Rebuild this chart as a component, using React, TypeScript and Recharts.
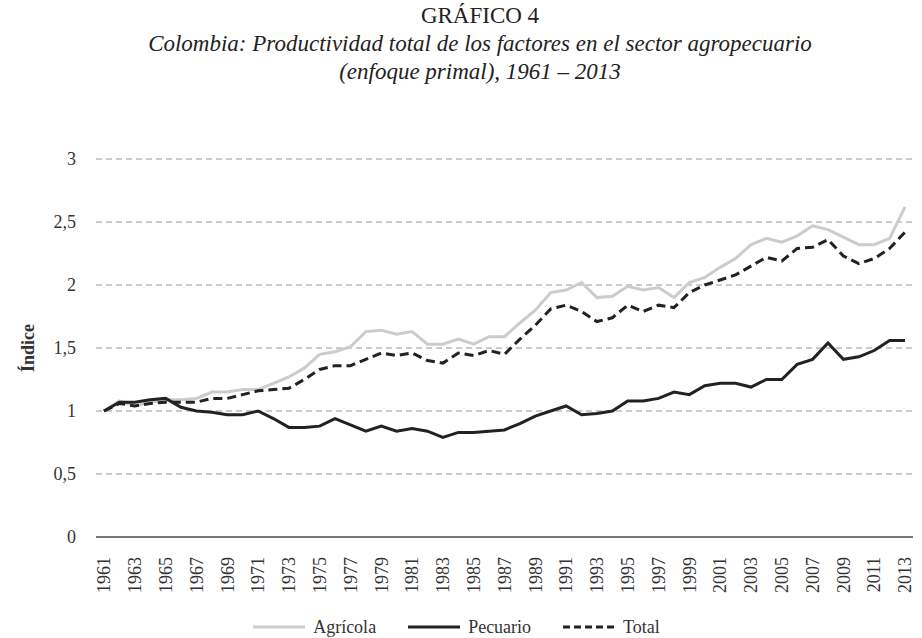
import { CartesianGrid, Legend, Line, LineChart, XAxis, YAxis } from "recharts"

const years = [
  "1961", "1962", "1963", "1964", "1965", "1966", "1967", "1968", "1969", "1970",
  "1971", "1972", "1973", "1974", "1975", "1976", "1977", "1978", "1979", "1980",
  "1981", "1982", "1983", "1984", "1985", "1986", "1987", "1988", "1989", "1990",
  "1991", "1992", "1993", "1994", "1995", "1996", "1997", "1998", "1999", "2000",
  "2001", "2002", "2003", "2004", "2005", "2006", "2007", "2008", "2009", "2010",
  "2011", "2012", "2013",
]

const agricola = [
  1.0, 1.08, 1.04, 1.07, 1.09, 1.09, 1.1, 1.15, 1.15, 1.17,
  1.17, 1.22, 1.27, 1.34, 1.45, 1.47, 1.51, 1.63, 1.64, 1.61,
  1.63, 1.53, 1.53, 1.57, 1.53, 1.59, 1.59, 1.7, 1.8, 1.94,
  1.96, 2.02, 1.9, 1.91, 1.99, 1.96, 1.98, 1.9, 2.02, 2.06,
  2.14, 2.21, 2.32, 2.37, 2.34, 2.39, 2.47, 2.44, 2.38, 2.32,
  2.32, 2.37, 2.62,
]

const pecuario = [
  1.0, 1.07, 1.07, 1.09, 1.1, 1.03, 1.0, 0.99, 0.97, 0.97,
  1.0, 0.94, 0.87, 0.87, 0.88, 0.94, 0.89, 0.84, 0.88, 0.84,
  0.86, 0.84, 0.79, 0.83, 0.83, 0.84, 0.85, 0.9, 0.96, 1.0,
  1.04, 0.97, 0.98, 1.0, 1.08, 1.08, 1.1, 1.15, 1.13, 1.2,
  1.22, 1.22, 1.19, 1.25, 1.25, 1.37, 1.41, 1.54, 1.41, 1.43,
  1.48, 1.56, 1.56,
]

const total = [
  1.0, 1.06, 1.04, 1.06, 1.07, 1.07, 1.07, 1.1, 1.1, 1.13,
  1.16, 1.17, 1.18, 1.25, 1.33, 1.36, 1.36, 1.41, 1.46, 1.44,
  1.46, 1.4, 1.38, 1.46, 1.44, 1.48, 1.45, 1.57, 1.68, 1.81,
  1.84, 1.79, 1.71, 1.74, 1.84, 1.79, 1.84, 1.82, 1.94, 2.0,
  2.04, 2.08, 2.15, 2.22, 2.19, 2.29, 2.3, 2.36, 2.23, 2.17,
  2.21, 2.29, 2.42,
]

const yTicks = [0, 0.5, 1, 1.5, 2, 2.5, 3]

const data = years.map((year, i) => ({
  year,
  agricola: agricola[i],
  pecuario: pecuario[i],
  total: total[i],
}))

const FONT = "'Liberation Serif', 'DejaVu Serif', serif"

const legendItems = [
  { label: "Agrícola", color: "#cccccc", dash: undefined },
  { label: "Pecuario", color: "#222222", dash: undefined },
  { label: "Total", color: "#222222", dash: "7 4" },
]

function YearTick(props: any) {
  const { x, y, payload } = props
  return (
    <text
      x={x}
      y={y + 12}
      transform={`rotate(-90, ${x}, ${y + 12})`}
      textAnchor="end"
      dy="0.35em"
      fontSize={18}
      fontFamily={FONT}
      fill="#333"
    >
      {payload.value}
    </text>
  )
}

function ChartLegend() {
  return (
    <div
      style={{
        height: 40,
        display: "flex",
        justifyContent: "center",
        alignItems: "flex-end",
        gap: 32,
        fontFamily: FONT,
        fontSize: 18,
        color: "#333",
      }}
    >
      {legendItems.map((item) => (
        <div key={item.label} style={{ display: "flex", alignItems: "center", gap: 8, height: 22 }}>
          <svg width={52} height={6}>
            <line x1={0} y1={3} x2={52} y2={3} stroke={item.color} strokeWidth={3} strokeDasharray={item.dash} />
          </svg>
          <span>{item.label}</span>
        </div>
      ))}
    </div>
  )
}

export default function App() {
  return (
    <div style={{ position: "absolute", left: 0, top: 0, width: 922, height: 638, background: "#fff" }}>
      <div
        style={{
          position: "absolute",
          left: 0,
          top: 0,
          width: 960,
          textAlign: "center",
          fontFamily: FONT,
          color: "#222",
        }}
      >
        <div style={{ fontSize: 23, lineHeight: "28px", marginTop: 2 }}>GRÁFICO 4</div>
        <div style={{ fontSize: 23, lineHeight: "28px", fontStyle: "italic" }}>
          Colombia: Productividad total de los factores en el sector agropecuario
        </div>
        <div style={{ fontSize: 23, lineHeight: "28px", fontStyle: "italic" }}>
          (enfoque primal), 1961 – 2013
        </div>
      </div>
      <LineChart width={922} height={638} data={data} margin={{ top: 159, right: 9, bottom: 0, left: 0 }}>
        <CartesianGrid vertical={false} stroke="#bbbbbb" strokeDasharray="6 4" strokeWidth={1.5} />
        <XAxis
          dataKey="year"
          interval={1}
          height={61}
          padding={{ left: 8, right: 8 }}
          tick={<YearTick />}
          tickLine={false}
          axisLine={{ stroke: "#777", strokeWidth: 2 }}
        />
        <YAxis
          width={96}
          domain={[0, 3]}
          ticks={yTicks}
          tickFormatter={(v: number) => String(v).replace(".", ",")}
          axisLine={false}
          tickLine={false}
          tickMargin={14}
          tick={{ fontSize: 18, fontFamily: FONT, fill: "#333" }}
          label={{
            value: "Índice",
            angle: -90,
            position: "insideLeft",
            offset: 28,
            style: { textAnchor: "middle", fontFamily: FONT, fontSize: 18, fontWeight: "bold", fill: "#333" },
          }}
        />
        <Legend verticalAlign="bottom" content={<ChartLegend />} />
        <Line dataKey="agricola" name="Agrícola" stroke="#cccccc" strokeWidth={3} dot={false} isAnimationActive={false} />
        <Line dataKey="total" name="Total" stroke="#222222" strokeWidth={3} strokeDasharray="9 5" dot={false} isAnimationActive={false} />
        <Line dataKey="pecuario" name="Pecuario" stroke="#222222" strokeWidth={3} dot={false} isAnimationActive={false} />
      </LineChart>
    </div>
  )
}
